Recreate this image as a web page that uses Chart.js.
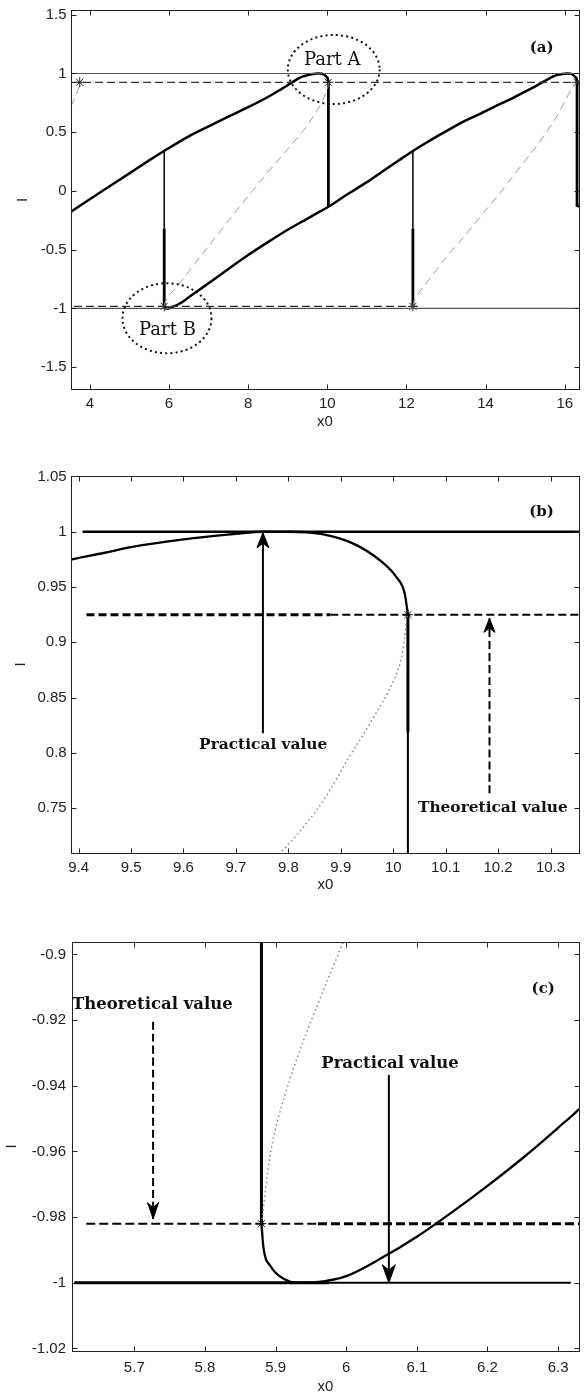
<!DOCTYPE html>
<html>
<head>
<meta charset="utf-8">
<script src="https://cdn.jsdelivr.net/npm/chart.js@4.4.0/dist/chart.umd.min.js"></script>
<style>
html,body{margin:0;padding:0;background:#fff;width:585px;height:1396px;overflow:hidden;}
canvas{position:absolute;left:0;}
</style>
</head>
<body>
<canvas id="ca" width="585" height="445" style="top:0px"></canvas>
<canvas id="cb" width="585" height="465" style="top:445px"></canvas>
<canvas id="cc" width="585" height="486" style="top:910px"></canvas>
<script>
// ---------------- tick values / labels ----------------
const aXTicks = [4, 6, 8, 10, 12, 14, 16];
const aXLabels = ['4', '6', '8', '10', '12', '14', '16'];
const aYTicks = [-1.5, -1, -0.5, 0, 0.5, 1, 1.5];
const aYLabels = ['-1.5', '-1', '-0.5', '0', '0.5', '1', '1.5'];
const bXTicks = [9.4, 9.5, 9.6, 9.7, 9.8, 9.9, 10, 10.1, 10.2, 10.3];
const bXLabels = ['9.4', '9.5', '9.6', '9.7', '9.8', '9.9', '10', '10.1', '10.2', '10.3'];
const bYTicks = [0.75, 0.8, 0.85, 0.9, 0.95, 1, 1.05];
const bYLabels = ['0.75', '0.8', '0.85', '0.9', '0.95', '1', '1.05'];
const cXTicks = [5.7, 5.8, 5.9, 6, 6.1, 6.2, 6.3];
const cXLabels = ['5.7', '5.8', '5.9', '6', '6.1', '6.2', '6.3'];
const cYTicks = [-1.02, -1, -0.98, -0.96, -0.94, -0.92, -0.9];
const cYLabels = ['-1.02', '-1', '-0.98', '-0.96', '-0.94', '-0.92', '-0.9'];

// ---------------- curves ----------------
// upper stable branch (ends at upper turning point)
const upperX = [3.525, 4.0, 4.5, 5.0, 5.5, 5.875, 6.5, 7.0, 7.5, 8.0, 8.5, 8.83, 9.0, 9.2, 9.3, 9.387, 9.45, 9.5, 9.6, 9.7, 9.75, 9.8, 9.862, 9.925, 9.975, 10.006, 10.022, 10.028];
const upperY = [-0.176, -0.07, 0.04, 0.15, 0.26, 0.34, 0.465, 0.55, 0.633, 0.713, 0.8, 0.865, 0.9, 0.943, 0.962, 0.975, 0.981, 0.986, 0.993, 0.998, 1.0, 1.0, 0.998, 0.989, 0.974, 0.959, 0.944, 0.925];
// lower stable branch (from lower turning point to next upper turning point)
const lowerX = [5.88, 5.8827, 5.893, 5.9135, 5.93, 5.97, 6.0, 6.05, 6.1, 6.15, 6.2, 6.25, 6.3, 6.33, 6.5, 6.75, 7.0, 7.5, 8.0, 8.5, 9.0, 9.5, 9.808, 10.028, 10.5, 11.0, 11.375, 11.783, 12.163, 12.5, 13.04, 13.5, 13.875, 14.3, 14.71, 15.0, 15.29, 15.5, 15.71, 15.85, 16.0, 16.06, 16.145, 16.208, 16.258, 16.289, 16.305, 16.311];
const lowerY = [-0.982, -0.989, -0.995, -0.999, -1.0, -0.9995, -0.998, -0.9925, -0.986, -0.9785, -0.9705, -0.962, -0.9528, -0.947, -0.905, -0.845, -0.785, -0.665, -0.545, -0.435, -0.33, -0.235, -0.176, -0.134, -0.03, 0.075, 0.162, 0.255, 0.34, 0.41, 0.515, 0.6, 0.658, 0.73, 0.795, 0.845, 0.897, 0.937, 0.975, 0.99, 0.998, 1.0, 0.998, 0.989, 0.974, 0.959, 0.944, 0.925];
// start of the following branch at the right edge
const tailX = [16.311, 16.36];
const tailY = [-0.134, -0.124];
// unstable branches
const unst1X = [5.88, 5.884, 5.889, 5.895, 5.903, 5.913, 5.925, 5.94, 5.96, 5.98, 6.0, 6.05, 6.2, 6.5, 7.0, 7.5, 8.0, 8.5, 9.0, 9.25, 9.5, 9.7, 9.794, 9.829, 9.871, 9.913, 9.956, 10.001, 10.016, 10.022, 10.025, 10.028];
const unst1Y = [-0.982, -0.975, -0.966, -0.958, -0.9505, -0.943, -0.935, -0.926, -0.915, -0.9045, -0.894, -0.87, -0.815, -0.685, -0.47, -0.255, -0.045, 0.16, 0.355, 0.455, 0.56, 0.665, 0.714, 0.733, 0.76, 0.794, 0.827, 0.866, 0.887, 0.905, 0.92, 0.925];
const unst2X = [12.163, 12.17, 12.2, 12.3, 12.625, 13.0, 13.46, 14.0, 14.29, 14.7, 15.125, 15.5, 15.79, 16.0, 16.17, 16.25, 16.3, 16.311];
const unst2Y = [-0.982, -0.96, -0.93, -0.875, -0.73, -0.565, -0.385, -0.165, -0.048, 0.13, 0.31, 0.48, 0.63, 0.76, 0.87, 0.9, 0.92, 0.925];
const unst0X = [3.525, 3.6, 3.68, 3.72, 3.74, 3.745];
const unst0Y = [0.725, 0.775, 0.84, 0.885, 0.91, 0.925];
// turning points (stars)
const starX = [3.745, 5.88, 10.028, 12.163, 16.311];
const starY = [0.925, -0.982, 0.925, -0.982, 0.925];

// ---------------- helpers ----------------
const SANS = '"Liberation Sans", Arial, sans-serif';
function xy(xs, ys) { return xs.map((x, i) => ({ x: x, y: ys[i] })); }
function ln(xs, ys, color, width, dash) {
  return { data: xy(xs, ys), showLine: true, borderColor: color, backgroundColor: color,
    borderWidth: width, borderDash: dash || [], pointRadius: 0, pointHoverRadius: 0,
    pointHitRadius: 0, cubicInterpolationMode: 'monotone', borderJoinStyle: 'round', fill: false };
}
function stars(xs, ys) {
  return { data: xy(xs, ys), showLine: false, pointStyle: 'star', pointRadius: 5,
    pointBorderWidth: 1, borderColor: '#222', backgroundColor: '#222', borderWidth: 1 };
}
function axis(kind, o) {
  return {
    type: 'linear', position: kind === 'x' ? 'bottom' : 'left', min: o.min, max: o.max,
    afterBuildTicks: s => { s.ticks = o.ticks.map(v => ({ value: v })); },
    afterFit: s => {
      if (kind === 'x') s.height = o.size; else s.width = o.size;
      s.paddingTop = 0; s.paddingBottom = 0; s.paddingLeft = 0; s.paddingRight = 0;
    },
    ticks: { autoSkip: false, maxRotation: 0, minRotation: 0, padding: o.pad, color: '#222',
      font: { family: SANS, size: 15 }, callback: (v, i) => o.labels[i] },
    grid: { display: false, drawTicks: false, tickLength: 0 },
    border: { display: false },
    title: { display: true, text: o.title, color: '#222', font: { family: SANS, size: 15 },
      padding: o.titlePad }
  };
}
function boxPlugin(annot) {
  return {
    id: 'mbox',
    afterDraw(chart) {
      const { ctx, chartArea: a, scales: { x, y } } = chart;
      ctx.save();
      const L = Math.floor(a.left) + 0.5, R = Math.floor(a.right) + 0.5;
      const T = Math.floor(a.top) + 0.5, B = Math.floor(a.bottom) + 0.5;
      ctx.strokeStyle = '#222'; ctx.lineWidth = 1; ctx.setLineDash([]);
      ctx.strokeRect(L, T, R - L, B - T);
      ctx.beginPath();
      const tl = 5;
      x.ticks.forEach(t => {
        const px = Math.round(x.getPixelForValue(t.value)) + 0.5;
        ctx.moveTo(px, B); ctx.lineTo(px, B - tl);
        ctx.moveTo(px, T); ctx.lineTo(px, T + tl);
      });
      y.ticks.forEach(t => {
        const py = Math.round(y.getPixelForValue(t.value)) + 0.5;
        ctx.moveTo(L, py); ctx.lineTo(L + tl, py);
        ctx.moveTo(R, py); ctx.lineTo(R - tl, py);
      });
      ctx.stroke();
      (annot.ellipses || []).forEach(e => {
        const cx = x.getPixelForValue(e.cx), cy = y.getPixelForValue(e.cy);
        const rx = Math.abs(x.getPixelForValue(e.cx + e.rx) - cx);
        const ry = Math.abs(y.getPixelForValue(e.cy + e.ry) - cy);
        ctx.beginPath(); ctx.setLineDash([2, 3.2]); ctx.lineWidth = 2; ctx.strokeStyle = '#111';
        ctx.ellipse(cx, cy, rx, ry, 0, 0, Math.PI * 2); ctx.stroke();
      });
      ctx.setLineDash([]);
      (annot.heads || []).forEach(h => {
        const px = x.getPixelForValue(h.x), py = y.getPixelForValue(h.tip);
        const pb = y.getPixelForValue(h.base);
        const s = pb > py ? 1 : -1;
        const Lh = h.len, W = h.w;
        ctx.fillStyle = '#000'; ctx.strokeStyle = '#000'; ctx.lineWidth = 1;
        ctx.beginPath();
        ctx.moveTo(px, py);
        ctx.lineTo(px - W / 2, py + s * Lh);
        ctx.lineTo(px, py + s * Lh * 0.7);
        ctx.lineTo(px + W / 2, py + s * Lh);
        ctx.closePath(); ctx.fill(); ctx.stroke();
      });
      (annot.texts || []).forEach(t => {
        ctx.font = t.font; ctx.fillStyle = '#111'; ctx.textAlign = 'center'; ctx.textBaseline = 'middle';
        ctx.fillText(t.text, x.getPixelForValue(t.x), y.getPixelForValue(t.y));
      });
      ctx.restore();
    }
  };
}
function makeChart(id, cfg) {
  return new Chart(document.getElementById(id), {
    type: 'scatter',
    data: { datasets: cfg.datasets },
    options: {
      responsive: false, animation: false, devicePixelRatio: 1, events: [],
      layout: { padding: { top: cfg.padTop, right: 0.5, left: 0, bottom: 0 } },
      plugins: { legend: { display: false }, tooltip: { enabled: false } },
      scales: { x: axis('x', cfg.x), y: axis('y', cfg.y) }
    },
    plugins: [boxPlugin(cfg.annot)]
  });
}

const FONT_B_B = 'bold 15.4px "DejaVu Serif", serif';
const FONT_B_C = 'bold 16.5px "DejaVu Serif", serif';
const FONT_PART = '18px "DejaVu Serif", serif';
const FONT_TAG = 'bold 15px "DejaVu Serif", serif';

// ---------------- panel (a) ----------------
makeChart('ca', {
  padTop: 10.5,
  x: { min: 3.525, max: 16.36, ticks: aXTicks, labels: aXLabels, size: 55.7, pad: 6, title: 'x0', titlePad: { top: 0, bottom: 14.3 } },
  y: { min: -1.688, max: 1.536, ticks: aYTicks, labels: aYLabels, size: 71, pad: 4.5, title: 'I', titlePad: { top: 14, bottom: 0 } },
  datasets: [
    ln([3.525, 16.36], [1, 1], '#555', 1.2),
    ln([3.525, 16.36], [-1, -1], '#555', 1.2),
    ln([3.525, 16.36], [0.925, 0.925], '#333', 1.2, [8, 4]),
    ln([3.6, 12.32], [-0.982, -0.982], '#333', 1.2, [8, 4]),
    ln(unst0X, unst0Y, '#999', 1, [8, 5]),
    ln(unst1X, unst1Y, '#999', 1, [8, 5]),
    ln(unst2X, unst2Y, '#999', 1, [8, 5]),
    ln(upperX, upperY, '#000', 2.5),
    ln(lowerX, lowerY, '#000', 2.5),
    ln(tailX, tailY, '#000', 2.5),
    ln([10.028, 10.028], [0.925, -0.134], '#000', 2.8),
    ln([16.311, 16.311], [0.925, -0.134], '#000', 2.8),
    ln([5.88, 5.88], [0.34, -0.32], '#000', 1.5),
    ln([5.88, 5.88], [-0.32, -0.982], '#000', 2.8),
    ln([12.163, 12.163], [0.34, -0.32], '#000', 1.5),
    ln([12.163, 12.163], [-0.32, -0.982], '#000', 2.8),
    stars(starX, starY)
  ],
  annot: {
    ellipses: [{ cx: 10.1625, cy: 1.034, rx: 1.16, ry: 0.294 }, { cx: 5.95, cy: -1.0834, rx: 1.125, ry: 0.298 }],
    texts: [
      { x: 15.4175, y: 1.2145, text: '(a)', font: FONT_TAG },
      { x: 10.125, y: 1.115, text: 'Part A', font: FONT_PART },
      { x: 5.9625, y: -1.183, text: 'Part B', font: FONT_PART }
    ]
  }
});

// ---------------- panel (b) ----------------
makeChart('cb', {
  padTop: 31,
  x: { min: 9.3868, max: 10.3543, ticks: bXTicks, labels: bXLabels, size: 57, pad: 6, title: 'x0', titlePad: { top: 0, bottom: 16 } },
  y: { min: 0.7095, max: 1.0504, ticks: bYTicks, labels: bYLabels, size: 71.7, pad: 5, title: 'I', titlePad: { top: 11.5, bottom: 0 } },
  datasets: [
    ln([9.4075, 10.36], [1, 1], '#000', 2.5),
    ln([9.415, 9.88], [0.925, 0.925], '#000', 3, [8, 4]),
    ln([9.88, 10.36], [0.925, 0.925], '#000', 2, [8, 4]),
    ln(unst1X, unst1Y, '#888', 1.5, [1.5, 3]),
    ln(upperX, upperY, '#000', 2.3),
    ln([10.028, 10.028], [0.925, 0.819], '#000', 3),
    ln([10.028, 10.028], [0.819, 0.70], '#000', 2),
    ln([9.7515, 9.7515], [0.8177, 0.999], '#000', 2),
    ln([10.1836, 10.1836], [0.7635, 0.9217], '#000', 2, [8, 4]),
    stars([10.028], [0.925])
  ],
  annot: {
    heads: [
      { x: 9.7515, tip: 0.999, base: 0.8177, len: 15, w: 12 },
      { x: 10.1836, tip: 0.9217, base: 0.7635, len: 14, w: 11 }
    ],
    texts: [
      { x: 10.283, y: 1.018, text: '(b)', font: FONT_TAG },
      { x: 9.752, y: 0.807, text: 'Practical value', font: FONT_B_B },
      { x: 10.19, y: 0.75, text: 'Theoretical value', font: FONT_B_B }
    ]
  }
});

// ---------------- panel (c) ----------------
makeChart('cc', {
  padTop: 32,
  x: { min: 5.6118, max: 6.3296, ticks: cXTicks, labels: cXLabels, size: 45, pad: 8, title: 'x0', titlePad: { top: 0, bottom: 0 } },
  y: { min: -1.0208, max: -0.8962, ticks: cYTicks, labels: cYLabels, size: 72, pad: 6, title: 'I', titlePad: { top: 3, bottom: 0 } },
  datasets: [
    ln([5.615, 5.976], [-1, -1], '#000', 3),
    ln([5.976, 6.318], [-1, -1], '#000', 2),
    ln([5.632, 5.96], [-0.982, -0.982], '#000', 2, [9, 4]),
    ln([5.96, 6.34], [-0.982, -0.982], '#000', 3, [9, 4]),
    ln(unst1X, unst1Y, '#888', 1.5, [1.5, 3]),
    ln(lowerX, lowerY, '#000', 2.3),
    ln([5.88, 5.88], [-0.982, -0.89], '#000', 3),
    ln([5.7266, 5.7266], [-0.9205, -0.9805], '#000', 2, [8, 4]),
    ln([6.0604, 6.0604], [-0.9367, -1.0], '#000', 2),
    stars([5.88], [-0.982])
  ],
  annot: {
    heads: [
      { x: 5.7266, tip: -0.9805, base: -0.9205, len: 16, w: 11 },
      { x: 6.0604, tip: -1.0, base: -0.9367, len: 18, w: 13 }
    ],
    texts: [
      { x: 6.279, y: -0.9107, text: '(c)', font: FONT_TAG },
      { x: 5.7256, y: -0.9152, text: 'Theoretical value', font: FONT_B_C },
      { x: 6.062, y: -0.9332, text: 'Practical value', font: FONT_B_C }
    ]
  }
});
</script>
</body>
</html>
